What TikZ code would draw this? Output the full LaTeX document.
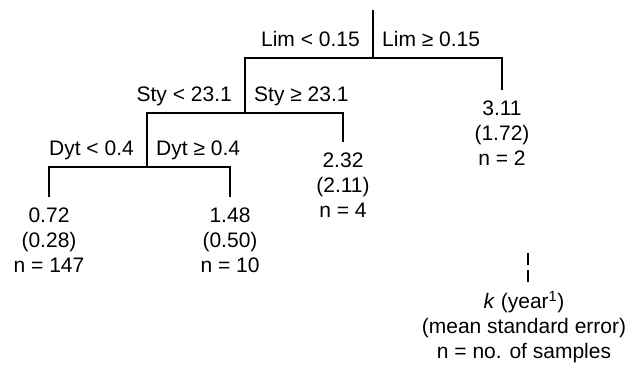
\documentclass[tikz,border=0pt]{standalone}
\usepackage{fontspec}
\setmainfont{Liberation Sans}
\begin{document}
\begin{tikzpicture}[x=1pt,y=-1pt,
  treeline/.style={line width=1.8pt},
  splitlabel/.style={inner sep=0pt, font=\fontsize{21}{25}\selectfont},
  leaf/.style={anchor=north, align=center, inner xsep=0pt, inner ysep=11pt,
    outer sep=0pt, font=\fontsize{21}{25}\selectfont}]
\useasboundingbox (0,0) rectangle (633,369);

% split points of the regression tree
\coordinate (top) at (373,10);
\coordinate (s1) at (373,58);
\coordinate (s2) at (245,113);
\coordinate (s3) at (147,167);

% terminal nodes
\node[leaf] (l311) at (502,90) {3.11\\(1.72)\\n = 2};
\node[leaf] (l232) at (343,142) {2.32\\(2.11)\\n = 4};
\node[leaf] (l072) at (49,197) {0.72\\(0.28)\\n = 147};
\node[leaf] (l148) at (230,197) {1.48\\(0.50)\\n = 10};

% branches
\draw[treeline] (top) -- (s1);
\draw[treeline] (s1) -| (s2);
\draw[treeline] (s1) -| (l311.north);
\draw[treeline] (s2) -| (s3);
\draw[treeline] (s2) -| (l232.north);
\draw[treeline] (s3) -| (l072.north);
\draw[treeline] (s3) -| (l148.north);

% split rules
\node[splitlabel, anchor=base east] (limL) at (360,47) {Lim < 0.15};
\node[splitlabel, anchor=base west] (limR) at (382,47) {Lim ≥ 0.15};
\node[splitlabel, anchor=base east] (styL) at (232,102) {Sty < 23.1};
\node[splitlabel, anchor=base west] (styR) at (254,102) {Sty ≥ 23.1};
\node[splitlabel, anchor=base east] (dytL) at (134,156) {Dyt < 0.4};
\node[splitlabel, anchor=base west] (dytR) at (156,156) {Dyt ≥ 0.4};

% key
\coordinate (dtop) at (528,253);
\node[leaf, inner ysep=9pt] (key) at (524,282)
  {\textit{k} (year\textsuperscript{1})\\(mean standard error)\\n = no. of samples};
\draw[treeline, dash pattern=on 12pt off 5pt] (dtop) -- (dtop |- key.north);
\end{tikzpicture}
\end{document}
